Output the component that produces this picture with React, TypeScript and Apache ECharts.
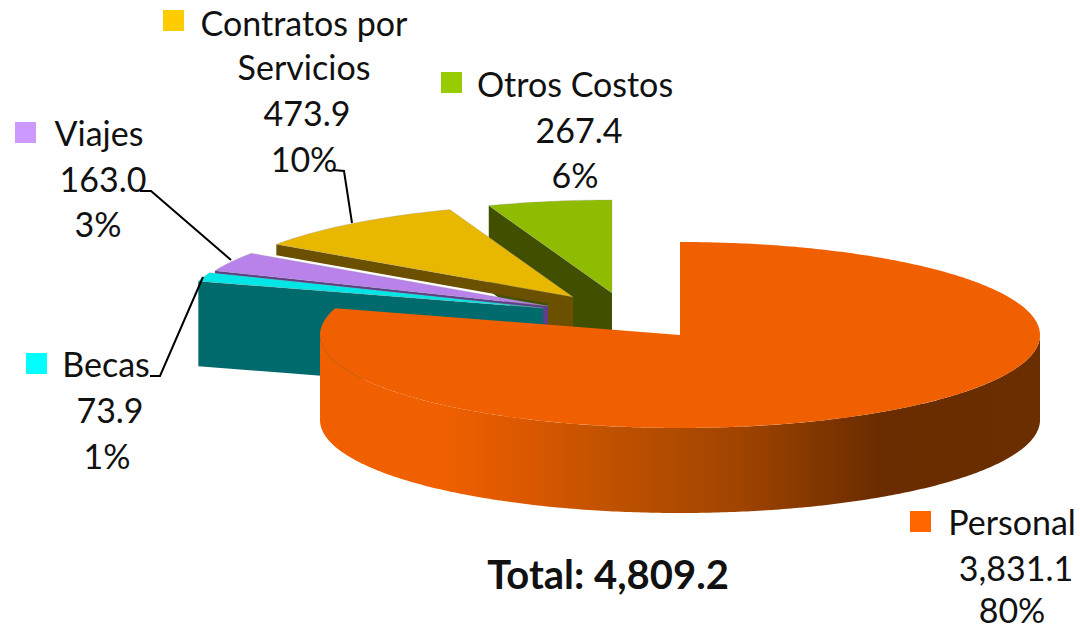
import React, { useEffect, useRef } from "react";
import * as echarts from "echarts";

// ---- data ----
const names = ["Personal", "Becas", "Viajes", "Contratos por Servicios", "Otros Costos"];
const values = [3831.1, 73.9, 163.0, 473.9, 267.4];
const percentLabels = ["80%", "1%", "3%", "10%", "6%"];
const totalLabel = "Total: 4,809.2";
const valueLabels = ["3,831.1", "73.9", "163.0", "473.9", "267.4"];

// ---- layout ----
const RX = 360;
const RY = 93;
const DEPTH = 85;
const apexes = [[680, 335], [543, 308], [548, 306], [573, 297], [612, 293]];
const topColors = ["#f06000", "#00e6e6", "#b982ea", "#e8b800", "#8fbc00"];
const wallColors = ["#6a2e00", "#006a6c", "#5c3f88", "#6b5000", "#405000"];
// how far the cut face is visible along its length, and the strip visible down at the apex
const bandDepth = [0, DEPTH, 3, 11, DEPTH];
const apexStrip = [0, 0, 5, 25, 0];
const drawOrder = [4, 3, 2, 1, 0];

const legendColors = ["#ff6600", "#00ffff", "#cc99ff", "#ffcc00", "#99cc00"];
const legendBoxes = [[910, 511], [26, 353], [15, 122], [163, 10], [441, 72]];
const labelLines = [
  [["Personal", 1012, 521], [valueLabels[0], 1016, 567], [percentLabels[0], 1012, 609]],
  [["Becas", 106, 363], [valueLabels[1], 110, 409], [percentLabels[1], 107, 455]],
  [["Viajes", 99, 132], [valueLabels[2], 103, 178], [percentLabels[2], 98, 223]],
  [["Contratos por", 304, 22], ["Servicios", 304, 66], [valueLabels[3], 307, 112], [percentLabels[3], 304, 158]],
  [["Otros Costos", 575, 83], [valueLabels[4], 579, 129], [percentLabels[4], 575, 174]],
];
const leaders = [
  [[333, 170], [344, 171], [352, 223]],
  [[140, 191], [151, 191], [231, 260]],
  [[150, 376], [160, 376], [203, 277]],
];

const FONT = "Lato, Carlito, Calibri, sans-serif";
const total = values.reduce((a, b) => a + b, 0);

function pt(a: number[], deg: number, dy = 0): number[] {
  const r = (deg * Math.PI) / 180;
  return [a[0] + RX * Math.sin(r), a[1] - RY * Math.cos(r) + dy];
}

function arc(a: number[], from: number, to: number, dy = 0): number[][] {
  const out: number[][] = [];
  const n = Math.max(2, Math.ceil(Math.abs(to - from) * 1.5));
  for (let i = 0; i <= n; i++) out.push(pt(a, from + ((to - from) * i) / n, dy));
  return out;
}

function renderSlice(params: any, api: any) {
  const i = params.dataIndex;
  const idx = drawOrder[i];
  let start = 0;
  for (let k = 0; k < idx; k++) start += (values[k] / total) * 360;
  const end = start + (api.value(0) / total) * 360;
  const a = apexes[idx];
  const children: any[] = [];
  if (idx === 0) {
    const wall = [...arc(a, 90, 270), ...arc(a, 270, 90, DEPTH)];
    children.push({
      type: "polygon",
      z2: 1,
      shape: { points: wall },
      style: {
        fill: new echarts.graphic.LinearGradient(0, 0, 1, 0, [
          { offset: 0, color: "#f06000" },
          { offset: 0.17, color: "#f06000" },
          { offset: 0.28, color: "#dc5800" },
          { offset: 0.4, color: "#c05200" },
          { offset: 0.58, color: "#a04400" },
          { offset: 0.78, color: "#6a2c00" },
          { offset: 1, color: "#6a2e00" },
        ]),
      },
    });
  } else {
    const o = pt(a, start);
    const band = bandDepth[idx];
    const strip = apexStrip[idx];
    const slope = (a[1] - o[1]) / (a[0] - o[0]);
    const pts = strip
      ? [o, a, [a[0], a[1] + DEPTH], [a[0] - strip, a[1] + DEPTH], [a[0] - strip, a[1] - strip * slope + band], [o[0], o[1] + band]]
      : [o, a, [a[0], a[1] + band], [o[0], o[1] + band]];
    children.push({
      type: "polygon",
      z2: 1,
      shape: { points: pts },
      style: { fill: wallColors[idx] },
    });
  }
  children.push({
    type: "polygon",
    z2: 2,
    shape: { points: [a, ...arc(a, start, end)] },
    style: idx === 0
      ? { fill: topColors[idx] }
      : { fill: topColors[idx], stroke: "rgba(150,150,150,0.5)", lineWidth: 0.6 },
  });
  return { type: "group", children };
}

function buildGraphic() {
  const els: any[] = [];
  legendBoxes.forEach((b, i) => {
    els.push({
      type: "rect",
      shape: { x: b[0], y: b[1], width: 21, height: 21 },
      style: { fill: legendColors[i] },
    });
  });
  labelLines.forEach((lines) => {
    lines.forEach((l) => {
      els.push({
        type: "text",
        x: l[1],
        y: l[2],
        style: {
          text: l[0],
          fill: "#111",
          font: `34px ${FONT}`,
          textAlign: "center",
          textVerticalAlign: "middle",
        },
      });
    });
  });
  leaders.forEach((p) => {
    els.push({
      type: "polyline",
      shape: { points: p },
      style: { stroke: "#000", lineWidth: 2, fill: "none" },
    });
  });
  els.push({
    type: "text",
    x: 608,
    y: 574,
    style: {
      text: totalLabel,
      fill: "#111",
      font: `bold 40px ${FONT}`,
      textAlign: "center",
      textVerticalAlign: "middle",
    },
  });
  return els.map((e) => ({ ...e, z: 10 }));
}

export default function App() {
  const ref = useRef<HTMLDivElement>(null);
  useEffect(() => {
    document.body.style.margin = "0";
    const chart = echarts.init(ref.current!, undefined, { renderer: "svg" });
    chart.setOption({
      animation: false,
      backgroundColor: "#ffffff",
      graphic: { elements: buildGraphic() },
      series: [
        {
          type: "custom",
          coordinateSystem: "none",
          renderItem: renderSlice,
          data: drawOrder.map((i) => ({ name: names[i], value: [values[i]] })),
          silent: true,
        },
      ],
    });
    return () => chart.dispose();
  }, []);
  return <div ref={ref} style={{ width: 1080, height: 629 }} />;
}
